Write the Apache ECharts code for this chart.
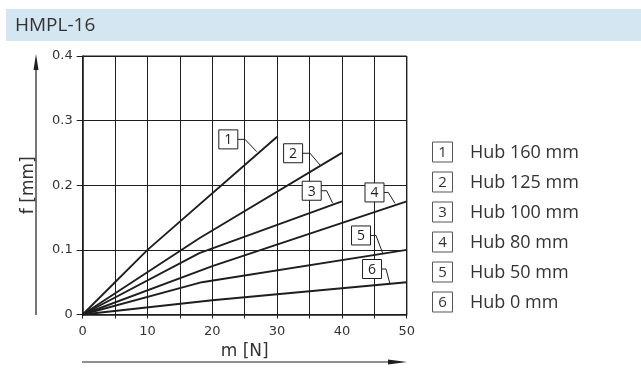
<!DOCTYPE html>
<html>
<head>
<meta charset="utf-8">
<script src="https://cdn.jsdelivr.net/npm/echarts@6/dist/echarts.min.js"></script>
<style>
  html, body { margin: 0; padding: 0; background: #fff; }
  #chart { width: 641px; height: 371px; }
</style>
</head>
<body>
<div id="chart"></div>
<script>
// Deflection f over load m for the different stroke lengths
const title = 'HMPL-16';
const xTicks = [0, 10, 20, 30, 40, 50];
const yTicks = [0, 0.1, 0.2, 0.3, 0.4];
const curveIds = ['1', '2', '3', '4', '5', '6'];
const curveNames = ['Hub 160 mm', 'Hub 125 mm', 'Hub 100 mm', 'Hub 80 mm', 'Hub 50 mm', 'Hub 0 mm'];

// [m in N, f in mm]
const hub160 = [[0, 0], [10, 0.1], [30, 0.275]];
const hub125 = [[0, 0], [18, 0.118], [40, 0.25]];
const hub100 = [[0, 0], [18, 0.095], [40, 0.175]];
const hub80 = [[0, 0], [20, 0.075], [50, 0.175]];
const hub50 = [[0, 0], [18.4, 0.05], [50, 0.1]];
const hub0 = [[0, 0], [20, 0.022], [50, 0.05]];
const curves = [hub160, hub125, hub100, hub80, hub50, hub0];

const ink = '#1e1e1e';
const font = 'DejaVu Sans';
const textFont = '"Open Sans", "Noto Sans", sans-serif';

const chart = echarts.init(document.getElementById('chart'), null, { renderer: 'canvas' });

// Callout boxes: box centre, elbow x and tip on the curve, all in data units
const callouts = [
  { box: [22.47, 0.271], elbow: 25.05, tip: [26.85, 0.252] },
  { box: [32.47, 0.2495], elbow: 35.08, tip: [36.62, 0.2314] },
  { box: [35.34, 0.1915], elbow: 37.65, tip: [38.58, 0.172] },
  { box: [45.03, 0.1889], elbow: 47.16, tip: [48.19, 0.172] },
  { box: [42.95, 0.1223], elbow: 45.26, tip: [46.3, 0.0947] },
  { box: [44.65, 0.0704], elbow: 46.81, tip: [47.42, 0.0472] }
];

const lineSeries = curves.map((pts, i) => ({
  name: curveNames[i],
  type: 'line',
  data: pts,
  symbol: 'none',
  smooth: false,
  lineStyle: { color: ink, width: 1.9 },
  z: 3,
  silent: true
}));

const calloutSeries = {
  type: 'custom',
  coordinateSystem: 'cartesian2d',
  data: callouts.map((c, i) => [c.box[0], c.box[1], i]),
  z: 5,
  silent: true,
  renderItem: function (params, api) {
    const i = api.value(2);
    const c = callouts[i];
    const p = api.coord(c.box);
    const e = api.coord([c.elbow, c.box[1]]);
    const t = api.coord(c.tip);
    const s = 19;
    return {
      type: 'group',
      children: [
        { type: 'polyline', shape: { points: [[p[0] + s / 2, p[1]], e, t] },
          style: { stroke: ink, lineWidth: 1, fill: null } },
        { type: 'rect', shape: { x: p[0] - s / 2, y: p[1] - s / 2, width: s, height: s },
          style: { fill: '#fff', stroke: ink, lineWidth: 1 } },
        { type: 'text', x: p[0], y: p[1] + 1,
          style: { text: curveIds[i], font: '14px ' + textFont, fill: ink, align: 'center', verticalAlign: 'middle' } }
      ]
    };
  }
};

// Key on the right: numbered box plus stroke text
const keyItems = [];
curveNames.forEach((name, i) => {
  const cy = 152 + i * 30;
  keyItems.push({
    type: 'rect', shape: { x: 432.5, y: cy - 10, width: 20, height: 20 },
    style: { fill: '#fff', stroke: '#555', lineWidth: 1 }
  });
  keyItems.push({
    type: 'text', x: 442.5, y: cy + 1,
    style: { text: curveIds[i], font: '15px ' + textFont, fill: '#333', align: 'center', verticalAlign: 'middle' }
  });
  keyItems.push({
    type: 'text', x: 470, y: cy + 1,
    style: { text: name, font: '18px ' + textFont, fill: '#333', align: 'left', verticalAlign: 'middle' }
  });
});

const option = {
  animation: false,
  backgroundColor: '#fff',
  grid: { left: 82.7, right: 234.3, top: 56, bottom: 56.5, containLabel: false },
  xAxis: {
    type: 'value',
    min: xTicks[0], max: xTicks[xTicks.length - 1], interval: 5,
    name: 'm [N]', nameLocation: 'middle', nameGap: 18,
    nameTextStyle: { fontFamily: font, fontSize: 17, color: '#333' },
    axisLine: { show: true, lineStyle: { color: ink, width: 1.6 } },
    axisTick: { show: true, inside: false, length: 4, lineStyle: { color: ink } },
    axisLabel: {
      margin: 11, fontFamily: font, fontSize: 13, color: '#333',
      formatter: v => (xTicks.indexOf(v) >= 0 ? String(v) : '')
    },
    splitLine: { show: true, lineStyle: { color: ink, width: 1 } }
  },
  yAxis: {
    type: 'value',
    min: yTicks[0], max: yTicks[yTicks.length - 1], interval: 0.1,
    name: 'f [mm]', nameLocation: 'middle', nameGap: 46, nameRotate: 90,
    nameTextStyle: { fontFamily: font, fontSize: 17, color: '#333' },
    axisLine: { show: true, lineStyle: { color: ink, width: 1.6 } },
    axisTick: { show: true, inside: false, length: 6, lineStyle: { color: ink } },
    axisLabel: {
      margin: 10, fontFamily: font, fontSize: 13, color: '#333',
      formatter: v => (v === 0 ? '0' : v.toFixed(1))
    },
    splitLine: { show: true, lineStyle: { color: ink, width: 1 } }
  },
  series: lineSeries.concat([calloutSeries]),
  graphic: [
    // title band
    { type: 'rect', shape: { x: 6, y: 9, width: 635, height: 32 }, style: { fill: '#d3e6f1' }, z: -1 },
    { type: 'text', x: 15, y: 26, style: { text: title, font: '19px ' + textFont, fill: '#333', verticalAlign: 'middle' } },
    // right and top border of the plot
    { type: 'line', shape: { x1: 406.7, y1: 56, x2: 406.7, y2: 314.5 }, style: { stroke: ink, lineWidth: 1.4 } },
    { type: 'line', shape: { x1: 82.7, y1: 56, x2: 406.7, y2: 56 }, style: { stroke: ink, lineWidth: 1.2 } },
    // direction arrow for f
    { type: 'line', shape: { x1: 36, y1: 315, x2: 36, y2: 64 }, style: { stroke: ink, lineWidth: 1.2 } },
    { type: 'polygon', shape: { points: [[36, 54], [33.5, 70], [38.5, 70]] }, style: { fill: ink } },
    // direction arrow for m
    { type: 'line', shape: { x1: 82, y1: 362, x2: 396, y2: 362 }, style: { stroke: ink, lineWidth: 1.2 } },
    { type: 'polygon', shape: { points: [[407, 362], [388, 359.5], [388, 364.5]] }, style: { fill: ink } }
  ].concat(keyItems)
};

chart.setOption(option);
</script>
</body>
</html>
